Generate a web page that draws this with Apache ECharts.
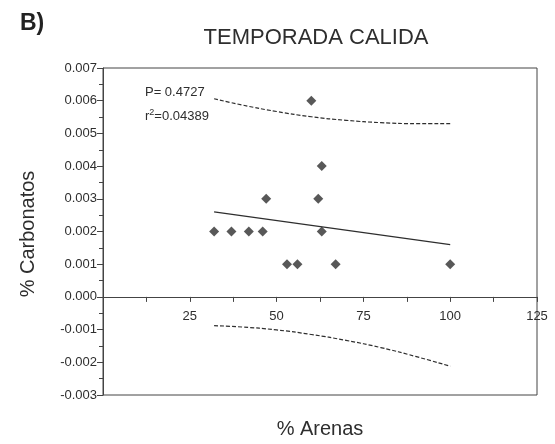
<!DOCTYPE html>
<html>
<head>
<meta charset="utf-8">
<script src="https://cdn.jsdelivr.net/npm/echarts@6/dist/echarts.min.js"></script>
<style>
  html, body { margin: 0; padding: 0; background: #fff; }
  #chart { width: 555px; height: 444px; }
</style>
</head>
<body>
<div id="chart"></div>
<script>
// Sand content (%) and carbonate content (%) of the warm-season samples
const arenas     = [32, 37, 42, 46, 47, 53, 56, 60, 62, 63, 63, 67, 100];
const carbonatos = [0.002, 0.002, 0.002, 0.002, 0.003, 0.001, 0.001, 0.006, 0.003, 0.004, 0.002, 0.001, 0.001];

// Fitted regression line (end points)
const fitX = [32, 100];
const fitY = [0.0026, 0.0016];

// Prediction band around the fit
const bandX     = [32, 40, 50, 60, 70, 80, 90, 100];
const bandUpper = [0.00606, 0.00587, 0.00567, 0.00551, 0.00540, 0.00533, 0.00530, 0.00530];
const bandLower = [-0.00088, -0.00092, -0.00101, -0.00115, -0.00133, -0.00155, -0.00182, -0.00212];

// Axis ranges
const xMin = 0, xMax = 125, xStep = 12.5;
const yMin = -0.003, yMax = 0.007, yStep = 0.001;

const statP  = 'P= 0.4727';
const statR2 = '0.04389';

const FONT = '"Liberation Sans", Arial, Helvetica, sans-serif';
const INK = '#2e2e2e';
const AXIS = '#444444';

const GRID = { left: 103, right: 18, top: 68, bottom: 49 };
const CHART_H = 444;

const zip = (xs, ys) => xs.map((x, i) => [x, ys[i]]);

const chart = echarts.init(document.getElementById('chart'), null, { renderer: 'canvas' });

// The x axis crosses the plot at y = 0: shift it up from the grid bottom by the
// pixel distance between yMin and 0.
const plotH = CHART_H - GRID.top - GRID.bottom;
const zeroShift = plotH * (0 - yMin) / (yMax - yMin);

chart.setOption({
  animation: false,
  backgroundColor: '#ffffff',
  title: {
    text: 'TEMPORADA CALIDA',
    left: 311,
    textAlign: 'center',
    top: 22,
    textStyle: { fontFamily: FONT, fontSize: 22, fontWeight: 'normal', color: INK }
  },
  grid: Object.assign({
    show: true, borderColor: AXIS, borderWidth: 1, backgroundColor: 'transparent'
  }, GRID),
  xAxis: {
    type: 'value',
    position: 'bottom',
    offset: -zeroShift,
    min: xMin, max: xMax, interval: xStep,
    axisLine: { onZero: false, lineStyle: { color: AXIS, width: 1 } },
    axisTick: { show: true, length: 5, lineStyle: { color: AXIS } },
    axisLabel: {
      margin: 13,
      fontFamily: FONT, fontSize: 13, color: INK,
      formatter: v => (v > 0 && v % 25 === 0) ? String(v) : ''
    },
    splitLine: { show: false }
  },
  yAxis: {
    type: 'value',
    min: yMin, max: yMax, interval: yStep,
    axisLine: { show: true, onZero: false, lineStyle: { color: AXIS, width: 1 } },
    axisTick: { show: true, length: 6, lineStyle: { color: AXIS } },
    minorTick: { show: true, splitNumber: 2, length: 4, lineStyle: { color: AXIS } },
    axisLabel: {
      margin: 6,
      fontFamily: FONT, fontSize: 13, color: INK,
      formatter: v => v.toFixed(3)
    },
    splitLine: { show: false },
    minorSplitLine: { show: false }
  },
  graphic: [
    {
      type: 'text', left: 20, top: 12,
      style: { text: 'B)', font: 'bold 23px ' + FONT, fill: '#222' }
    },
    {
      type: 'text', x: 320, y: 429,
      style: { text: '% Arenas', font: '20px ' + FONT, fill: INK, align: 'center', verticalAlign: 'middle' }
    },
    {
      type: 'text', x: 28, y: 234, rotation: Math.PI / 2,
      style: { text: '% Carbonatos', font: '20px ' + FONT, fill: INK, align: 'center', verticalAlign: 'middle' }
    },
    {
      type: 'text', x: 145, y: 92,
      style: { text: statP, font: '13px ' + FONT, fill: INK, verticalAlign: 'middle' }
    },
    {
      type: 'text', x: 145, y: 108,
      style: {
        text: 'r{sup|2}=' + statR2,
        font: '13px ' + FONT, fill: INK,
        rich: { sup: { fontSize: 9, fontFamily: FONT, fill: INK, verticalAlign: 'top', padding: [0, 0, 8, 0] } }
      }
    }
  ],
  series: [
    {
      type: 'line', data: zip(bandX, bandUpper), smooth: true, symbol: 'none', silent: true,
      lineStyle: { color: INK, width: 1.2, type: [4, 2] }
    },
    {
      type: 'line', data: zip(bandX, bandLower), smooth: true, symbol: 'none', silent: true,
      lineStyle: { color: INK, width: 1.2, type: [4, 2] }
    },
    {
      type: 'line', data: zip(fitX, fitY), symbol: 'none', silent: true,
      lineStyle: { color: INK, width: 1.2 }
    },
    {
      type: 'scatter', data: zip(arenas, carbonatos),
      symbol: 'diamond', symbolSize: 10,
      itemStyle: { color: INK }
    }
  ]
});
</script>
</body>
</html>
